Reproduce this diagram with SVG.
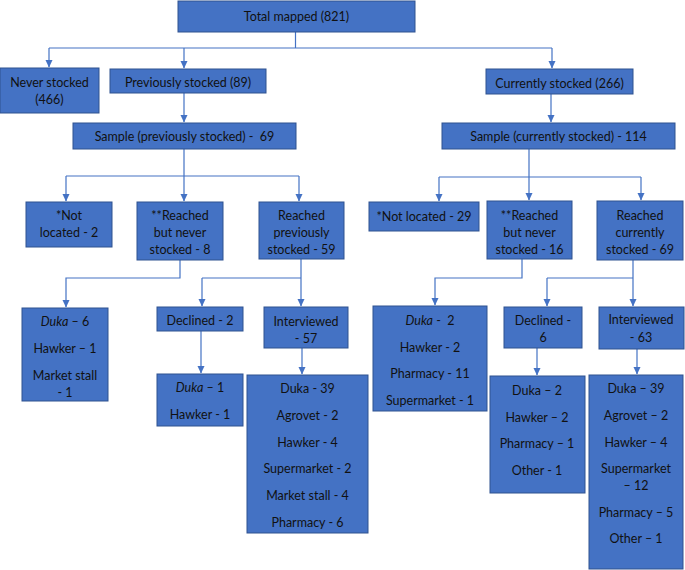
<svg xmlns="http://www.w3.org/2000/svg" width="685" height="570" viewBox="0 0 685 570">
<defs>
<marker id="ah" viewBox="0 0 8 8" refX="7" refY="4" markerWidth="8" markerHeight="8" markerUnits="userSpaceOnUse" orient="auto">
<path d="M0,0.5 L7.5,4 L0,7.5 Z" fill="#4472C4"/>
</marker>
<style>
.box{fill:#4472C4;stroke:#2F528F;stroke-width:1}
.t{font-family:Lato,"Liberation Sans",sans-serif;font-size:12.5px;fill:#111;text-anchor:middle;white-space:pre}
.c{fill:none;stroke:#4472C4;stroke-width:1.2}
.a{marker-end:url(#ah)}
.i{font-style:italic}
</style>
</defs>
<rect width="685" height="570" fill="#fff"/>
<g id="connectors">
<path class="c" d="M295.5,32 V48 M49,48 H552"/>
<path class="c a" d="M49,48 V67"/>
<path class="c a" d="M184,48 V68"/>
<path class="c a" d="M552,48 V68"/>
<path class="c a" d="M184,93 V122"/>
<path class="c a" d="M551,94 V122"/>
<path class="c" d="M184,149 V176 M66,176 H299"/>
<path class="c a" d="M66,176 V201"/>
<path class="c a" d="M184,176 V201"/>
<path class="c a" d="M299,176 V201"/>
<path class="c" d="M529,149 V177 M439,177 H641"/>
<path class="c a" d="M439,177 V201"/>
<path class="c a" d="M529,177 V200"/>
<path class="c a" d="M641,177 V200"/>
<path class="c a" d="M180,260 V278 H66 V307"/>
<path class="c" d="M301,259 V278 M202,278 H301"/>
<path class="c a" d="M202,278 V306"/>
<path class="c a" d="M301,278 V306"/>
<path class="c a" d="M201,331 V373"/>
<path class="c a" d="M302,348 V374"/>
<path class="c a" d="M522,259 V278 H435 V305"/>
<path class="c" d="M633,260 V278 M547,278 H633"/>
<path class="c a" d="M547,278 V306"/>
<path class="c a" d="M633,278 V306"/>
<path class="c a" d="M537,348 V375"/>
<path class="c a" d="M637,349 V374"/>
</g>
<g id="total"><rect class="box" x="178" y="1" width="237" height="31"/><text class="t" x="296.5" y="20.5">Total mapped (821)</text></g>
<g id="never"><rect class="box" x="0" y="68" width="99" height="45"/><text class="t" x="49.5" y="86.5">Never stocked</text><text class="t" x="49.5" y="103.5">(466)</text></g>
<g id="prev"><rect class="box" x="110" y="69" width="156" height="24"/><text class="t" x="188" y="86.5">Previously stocked (89)</text></g>
<g id="curr"><rect class="box" x="486" y="69" width="147" height="25"/><text class="t" x="559.5" y="87.5">Currently stocked (266)</text></g>
<g id="sample-prev"><rect class="box" x="73" y="123" width="223" height="26"/><text class="t" x="184.5" y="140.5">Sample (previously stocked) -  69</text></g>
<g id="sample-cur"><rect class="box" x="442" y="123" width="233" height="26"/><text class="t" x="558.5" y="140.5">Sample (currently stocked) - 114</text></g>
<g id="notloc-prev"><rect class="box" x="26" y="202" width="86" height="45"/><text class="t" x="69" y="219.5">*Not</text><text class="t" x="69" y="236.5">located - 2</text></g>
<g id="rnever-prev"><rect class="box" x="137" y="202" width="86" height="58"/><text class="t" x="180" y="219.5">**Reached</text><text class="t" x="180" y="236.5">but never</text><text class="t" x="180" y="253.5">stocked - 8</text></g>
<g id="rprev"><rect class="box" x="259" y="202" width="85" height="57"/><text class="t" x="301.5" y="219.5">Reached</text><text class="t" x="301.5" y="236.5">previously</text><text class="t" x="301.5" y="253.5">stocked - 59</text></g>
<g id="notloc-cur"><rect class="box" x="369" y="202" width="110" height="29"/><text class="t" x="424" y="220.5">*Not located - 29</text></g>
<g id="rnever-cur"><rect class="box" x="487" y="201" width="85" height="58"/><text class="t" x="529.5" y="219.5">**Reached</text><text class="t" x="529.5" y="236.5">but never</text><text class="t" x="529.5" y="253.5">stocked - 16</text></g>
<g id="rcur"><rect class="box" x="597" y="201" width="86" height="59"/><text class="t" x="640" y="219.5">Reached</text><text class="t" x="640" y="236.5">currently</text><text class="t" x="640" y="253.5">stocked - 69</text></g>
<g id="list-rnever-prev"><rect class="box" x="22" y="308" width="86" height="93"/><text class="t" x="65" y="326"><tspan class="i">Duka</tspan> – 6</text><text class="t" x="65" y="352.5">Hawker – 1</text><text class="t" x="65" y="379.5">Market stall</text><text class="t" x="65" y="396.5">- 1</text></g>
<g id="declined-prev"><rect class="box" x="157" y="307" width="86" height="24"/><text class="t" x="200" y="324.5">Declined - 2</text></g>
<g id="interviewed-prev"><rect class="box" x="264" y="307" width="84" height="41"/><text class="t" x="306" y="325.5">Interviewed</text><text class="t" x="306" y="342.5">- 57</text></g>
<g id="list-declined-prev"><rect class="box" x="157" y="374" width="86" height="52"/><text class="t" x="200" y="392"><tspan class="i">Duka</tspan> – 1</text><text class="t" x="200" y="418.5">Hawker - 1</text></g>
<g id="list-interviewed-prev"><rect class="box" x="247" y="375" width="121" height="158"/><text class="t" x="307.5" y="392.5">Duka - 39</text><text class="t" x="307.5" y="419.5">Agrovet - 2</text><text class="t" x="307.5" y="446.5">Hawker - 4</text><text class="t" x="307.5" y="472.5">Supermarket - 2</text><text class="t" x="307.5" y="499.5">Market stall - 4</text><text class="t" x="307.5" y="526.5">Pharmacy - 6</text></g>
<g id="list-rnever-cur"><rect class="box" x="373" y="306" width="114" height="105"/><text class="t" x="430" y="324.5"><tspan class="i">Duka</tspan> -  2</text><text class="t" x="430" y="351.5">Hawker - 2</text><text class="t" x="430" y="377.5">Pharmacy - 11</text><text class="t" x="430" y="404.5">Supermarket - 1</text></g>
<g id="declined-cur"><rect class="box" x="504" y="307" width="78" height="41"/><text class="t" x="543" y="324.5">Declined -</text><text class="t" x="543" y="341.5">6</text></g>
<g id="interviewed-cur"><rect class="box" x="599" y="307" width="85" height="42"/><text class="t" x="641" y="323.5">Interviewed</text><text class="t" x="641" y="341.5">- 63</text></g>
<g id="list-declined-cur"><rect class="box" x="490" y="376" width="95" height="117"/><text class="t" x="537" y="394.5">Duka – 2</text><text class="t" x="537" y="421.5">Hawker – 2</text><text class="t" x="537" y="447.5">Pharmacy – 1</text><text class="t" x="537" y="474.5">Other - 1</text></g>
<g id="list-interviewed-cur"><rect class="box" x="589" y="375" width="94" height="194"/><text class="t" x="636" y="392.5">Duka – 39</text><text class="t" x="636" y="419.5">Agrovet – 2</text><text class="t" x="636" y="446.5">Hawker – 4</text><text class="t" x="636" y="472.5">Supermarket</text><text class="t" x="636" y="489.5">– 12</text><text class="t" x="636" y="516.5">Pharmacy – 5</text><text class="t" x="636" y="542.5">Other – 1</text></g>
</svg>
